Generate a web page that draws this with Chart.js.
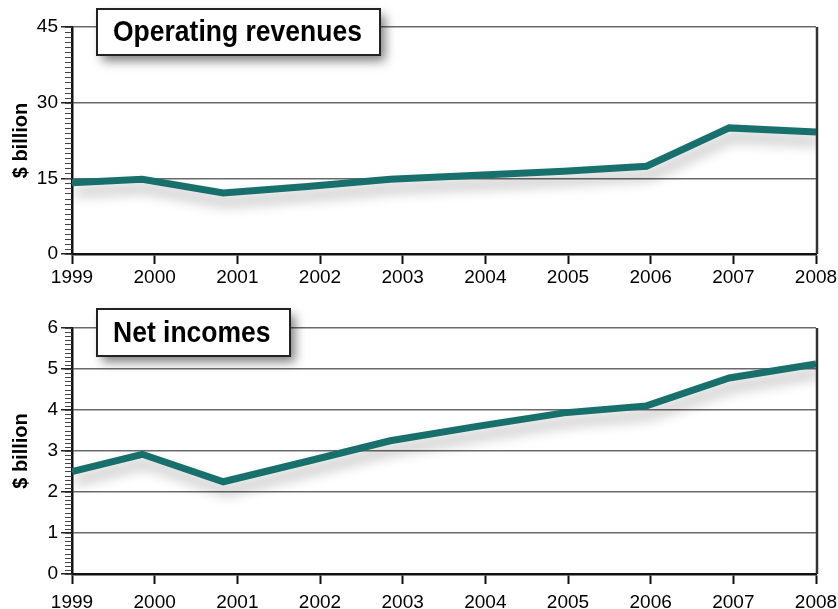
<!DOCTYPE html>
<html>
<head>
<meta charset="utf-8">
<script src="https://cdn.jsdelivr.net/npm/chart.js@4/dist/chart.umd.min.js"></script>
<style>
  html, body { margin: 0; padding: 0; background: #fff; }
  #wrap { position: relative; width: 838px; height: 609px; }
  canvas { position: absolute; left: 0; }
  #revChart { top: 0; }
  #incChart { top: 300px; }
</style>
</head>
<body>
<div id="wrap">
  <canvas id="revChart" width="838" height="300"></canvas>
  <canvas id="incChart" width="838" height="309"></canvas>
</div>
<script>
// year ticks along the bottom of both panels
const years = [1999, 2000, 2001, 2002, 2003, 2004, 2005, 2006, 2007, 2008];
// where each yearly figure sits on the time axis
const pointYears = [1999, 1999.85, 2000.83, 2001.85, 2002.85, 2003.9, 2004.95, 2005.95, 2006.95, 2008];
// $ billion
const revenues = [14.1, 14.8, 12.1, 13.4, 14.8, 15.6, 16.4, 17.4, 25.0, 24.2];
const netIncomes = [2.5, 2.92, 2.25, 2.75, 3.25, 3.6, 3.93, 4.1, 4.78, 5.12];
const revTicks = [0, 15, 30, 45];
const incTicks = [0, 1, 2, 3, 4, 5, 6];

const FONT = '"Liberation Sans", Arial, Helvetica, sans-serif';
const TEAL = '#17706b';

// shadow under the line, minor ticks, right frame and the caption box
const decoPlugin = {
  id: 'deco',
  beforeDatasetDraw(chart) {
    const ctx = chart.ctx;
    ctx.save();
    ctx.shadowColor = 'rgba(0,0,0,0.3)';
    ctx.shadowBlur = 13;
    ctx.shadowOffsetX = 3;
    ctx.shadowOffsetY = 9;
  },
  afterDatasetDraw(chart) {
    chart.ctx.restore();
  },
  afterDraw(chart, args, opts) {
    const ctx = chart.ctx;
    const area = chart.chartArea;
    const y = chart.scales.y;

    // minor ticks on the value axis
    ctx.save();
    ctx.strokeStyle = '#444';
    ctx.lineWidth = 1;
    const n = Math.round((y.max - y.min) / opts.minorStep);
    ctx.beginPath();
    for (let i = 0; i <= n; i++) {
      const py = Math.round(y.getPixelForValue(y.min + i * opts.minorStep)) + 0.5;
      ctx.moveTo(area.left - 7, py);
      ctx.lineTo(area.left, py);
    }
    ctx.stroke();

    // right frame line
    ctx.strokeStyle = '#333';
    ctx.lineWidth = 2.5;
    ctx.beginPath();
    ctx.moveTo(area.right + 1, y.getPixelForValue(y.max));
    ctx.lineTo(area.right + 1, area.bottom);
    ctx.stroke();
    ctx.restore();

    // caption box
    const b = opts.box;
    ctx.save();
    ctx.shadowColor = 'rgba(0,0,0,0.5)';
    ctx.shadowBlur = 10;
    ctx.shadowOffsetX = 5;
    ctx.shadowOffsetY = 6;
    ctx.fillStyle = '#fff';
    ctx.fillRect(b.x, b.y, b.w, b.h);
    ctx.restore();
    ctx.save();
    ctx.strokeStyle = '#222';
    ctx.lineWidth = 2;
    ctx.strokeRect(b.x, b.y, b.w, b.h);
    ctx.fillStyle = '#000';
    ctx.font = 'bold 26.5px ' + FONT;
    ctx.textAlign = 'left';
    ctx.textBaseline = 'middle';
    ctx.translate(b.x + 16, b.y + b.h / 2 + 1);
    ctx.scale(1, 1.1);
    ctx.fillText(opts.title, 0, 0);
    ctx.restore();
  }
};

function makeChart(id, values, yTicks, minorStep, title, box, padTop, xHeight, xPad) {
  const ctx = document.getElementById(id).getContext('2d');
  return new Chart(ctx, {
    type: 'line',
    data: {
      datasets: [{
        data: pointYears.map((x, i) => ({ x: x, y: values[i] })),
        borderColor: TEAL,
        borderWidth: 7,
        borderJoinStyle: 'miter',
        pointRadius: 0,
        tension: 0,
        fill: false
      }]
    },
    options: {
      responsive: false,
      animation: false,
      layout: { padding: { top: padTop, right: 22, left: 0, bottom: 0 } },
      plugins: {
        legend: { display: false },
        tooltip: { enabled: false },
        deco: { minorStep: minorStep, title: title, box: box }
      },
      scales: {
        x: {
          type: 'linear',
          min: years[0],
          max: years[years.length - 1],
          afterBuildTicks: s => { s.ticks = years.map(v => ({ value: v })); },
          afterFit: s => {
            s.height = xHeight;
            s.paddingLeft = 0;
            s.paddingRight = 20;
          },
          ticks: {
            callback: v => String(v),
            color: '#000',
            font: { family: FONT, size: 19 },
            padding: xPad,
            maxRotation: 0
          },
          grid: {
            drawOnChartArea: false,
            tickLength: 10,
            tickWidth: 2,
            tickColor: '#111'
          },
          border: { color: '#111', width: 2.5 }
        },
        y: {
          min: yTicks[0],
          max: yTicks[yTicks.length - 1],
          afterBuildTicks: s => { s.ticks = yTicks.map(v => ({ value: v })); },
          afterFit: s => { s.width = 72; },
          ticks: {
            color: '#000',
            font: { family: FONT, size: 19 },
            padding: 3
          },
          grid: {
            color: '#6a6a6a',
            lineWidth: 1.5,
            tickLength: 11,
            tickColor: '#222',
            tickWidth: 1.5
          },
          border: { color: '#111', width: 2.5 },
          title: {
            display: true,
            text: '$ billion',
            color: '#000',
            font: { family: FONT, size: 20, weight: 'bold' },
            padding: { top: 9, bottom: 0 }
          }
        }
      }
    },
    plugins: [decoPlugin]
  });
}

makeChart('revChart', revenues, revTicks, 1, 'Operating revenues',
  { x: 97, y: 9, w: 283, h: 46 }, 27, 46, 2);
makeChart('incChart', netIncomes, incTicks, 0.1, 'Net incomes',
  { x: 97, y: 9, w: 193, h: 47 }, 28, 35, 7);
</script>
</body>
</html>
